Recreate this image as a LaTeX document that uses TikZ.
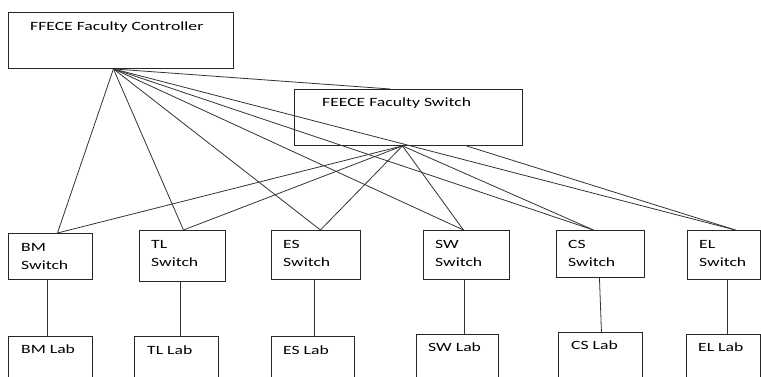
\documentclass[tikz,border=0pt]{standalone}
\usepackage{fontspec}
\setmainfont{Carlito}[FakeStretch=1.4]
\usetikzlibrary{calc}
\tikzset{
	unit/.style={draw=black!85, line width=0.9pt, inner sep=0pt, anchor=north west},
	lbl/.style={inner sep=0pt, anchor=base west, align=left, text=black, font=\fontsize{12.6}{17.5}\selectfont},
	wire/.style={draw=black!80, line width=0.8pt},
}

\begin{document}
\begin{tikzpicture}[x=1pt, y=-1pt]
			%%%%% START %%%%%
			\useasboundingbox (0, 0) rectangle (761, 376);
			\clip (0, 0) rectangle (761, 376);
			
			% controller and faculty switch
			\node[unit, minimum width=225, minimum height=56] (ctrl) at (8, 12) {};
			\node[lbl] (ctrl-t) at (30, 30) {FFECE Faculty Controller};
			\node[unit, minimum width=228, minimum height=56] (fsw) at (294, 89) {};
			\node[lbl] (fsw-t) at (322, 106) {FEECE Faculty Switch};
			
			% department switches (base is the second line)
			\node[unit, minimum width=84, minimum height=46] (bmsw) at (8, 233) {};
			\node[lbl] (bmsw-t) at (21, 269) {BM\\Switch};
			\node[unit, minimum width=86, minimum height=51] (tlsw) at (139, 230) {};
			\node[lbl] (tlsw-t) at (151, 266) {TL\\Switch};
			\node[unit, minimum width=89, minimum height=49] (essw) at (271, 230) {};
			\node[lbl] (essw-t) at (283, 266) {ES\\Switch};
			\node[unit, minimum width=86, minimum height=49] (swsw) at (423, 230) {};
			\node[lbl] (swsw-t) at (435, 266) {SW\\Switch};
			\node[unit, minimum width=88, minimum height=47] (cssw) at (556, 230) {};
			\node[lbl] (cssw-t) at (568, 266) {CS\\Switch};
			\node[unit, minimum width=73, minimum height=49] (elsw) at (687, 230) {};
			\node[lbl] (elsw-t) at (699, 266) {EL\\Switch};
			
			% labs
			\node[unit, minimum width=84, minimum height=64] (bmlab) at (8, 336) {};
			\node[lbl] (bmlab-t) at (21, 353) {BM Lab};
			\node[unit, minimum width=84, minimum height=64] (tllab) at (134, 336) {};
			\node[lbl] (tllab-t) at (147, 354) {TL Lab};
			\node[unit, minimum width=83, minimum height=64] (eslab) at (271, 336) {};
			\node[lbl] (eslab-t) at (283, 354) {ES Lab};
			\node[unit, minimum width=82, minimum height=66] (swlab) at (416, 334) {};
			\node[lbl] (swlab-t) at (428, 351) {SW Lab};
			\node[unit, minimum width=84, minimum height=68] (cslab) at (558, 332) {};
			\node[lbl] (cslab-t) at (571, 349) {CS Lab};
			\node[unit, minimum width=74, minimum height=66] (ellab) at (686, 334) {};
			\node[lbl] (ellab-t) at (698, 351) {EL Lab};
			
			% where the wires meet the boxes
			\coordinate (chub) at ([xshift=-7.5]ctrl.south);
			\coordinate (fhub) at ([xshift=-6]fsw.south);
			\coordinate (fout) at ([xshift=58]fsw.south);
			\coordinate (fin) at ([xshift=-18]fsw.north);
			\coordinate (bm-in) at ([xshift=7]bmsw.north);
			\coordinate (tl-in) at ([xshift=1]tlsw.north);
			\coordinate (es-in) at ([xshift=4.5]essw.north);
			\coordinate (sw-in) at ([xshift=-3]swsw.north);
			\coordinate (cs-in) at ([xshift=-7]cssw.north);
			\coordinate (el-in) at ([xshift=11.5]elsw.north);
			
			\draw[wire] (chub) -- (fin);
			\draw[wire] (chub) -- (bm-in);
			\draw[wire] (chub) -- (tl-in);
			\draw[wire] (chub) -- (es-in);
			\draw[wire] (chub) -- (sw-in);
			\draw[wire] (chub) -- (cs-in);
			\draw[wire] (chub) -- (el-in);
			
			\draw[wire] (fhub) -- (bm-in);
			\draw[wire] (fhub) -- (tl-in);
			\draw[wire] (fhub) -- (es-in);
			\draw[wire] (fhub) -- (sw-in);
			\draw[wire] (fhub) -- (cs-in);
			\draw[wire] (fout) -- (el-in);
			
			% switch to lab
			\draw[wire] ([xshift=-3]bmsw.south) -- ([xshift=-3]bmsw.south |- bmlab.north);
			\draw[wire] ([xshift=-2]tlsw.south) -- ([xshift=-2]tlsw.south |- tllab.north);
			\draw[wire] ([xshift=-1.5]essw.south) -- ([xshift=-1.5]essw.south |- eslab.north);
			\draw[wire] ([xshift=-2]swsw.south) -- ([xshift=-2]swsw.south |- swlab.north);
			\draw[wire] ([xshift=-1]cssw.south) -- ([xshift=1]cssw.south |- cslab.north);
			\draw[wire] ([xshift=3.5]elsw.south) -- ([xshift=3.5]elsw.south |- ellab.north);
			
			%%%%% END %%%%%
\end{tikzpicture}
\end{document}
